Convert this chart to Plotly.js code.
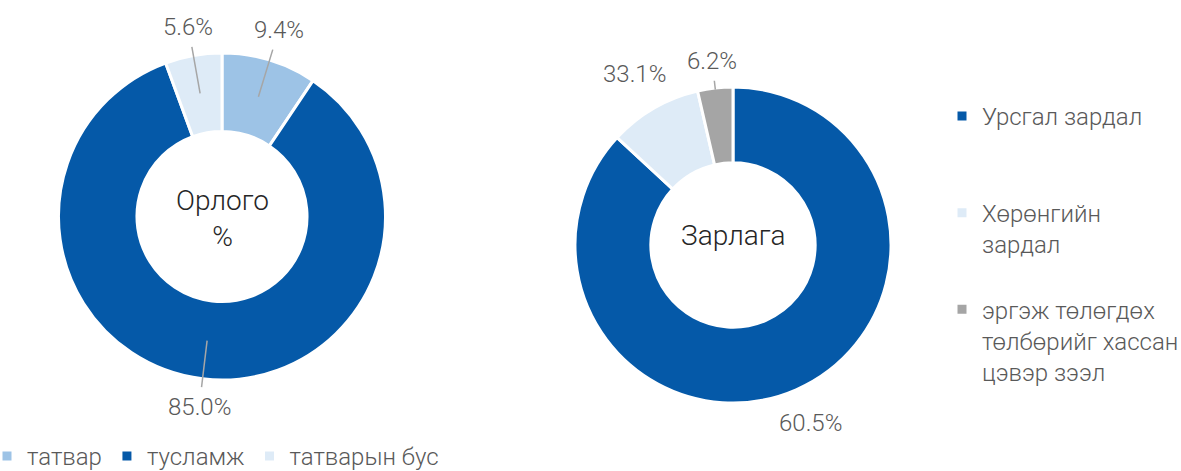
<!DOCTYPE html>
<html>
<head>
<meta charset="utf-8">
<script src="https://cdn.plot.ly/plotly-3.0.1.min.js"></script>
<style>html,body{margin:0;padding:0;background:#fff;}#chart{width:1181px;height:471px;}</style>
</head>
<body>
<div id="chart"></div>
<script>
// ---- data ----
const incomeLabels = ["татвар", "тусламж", "татварын бус"];
const incomeValues = [9.4, 85.0, 5.6];
const incomeText = ["9.4%", "85.0%", "5.6%"];

const expenseLabels = ["Урсгал зардал", "Хөрөнгийн<br>зардал", "эргэж төлөгдөх<br>төлбөрийг хассан<br>цэвэр зээл"];
const expenseValues = [86.9, 9.5, 3.6];          // slice sizes as drawn
const expenseText = ["60.5%", "33.1%", "6.2%"];  // labels as printed

const incomeTitle = "Орлого<br>%";
const expenseTitle = "Зарлага";

// ---- style ----
const W = 1181, H = 471;
const FONT = "Roboto, 'Open Sans', sans-serif";
const LABEL_SIZE = 24;
const incomeColors = ["#9DC3E6", "#0559A8", "#DEEBF7"];
const expenseColors = ["#0559A8", "#DEEBF7", "#A5A5A5"];
const pies = [
  {cx: 222, cy: 216.5, R: 163.5, values: incomeValues, text: incomeText, title: incomeTitle, titleDy: 2,
   lines: [true, true, true], anchor: 0.765},
  {cx: 733, cy: 245, R: 158, values: expenseValues, text: expenseText, title: expenseTitle, titleDy: -10,
   lines: [false, false, true], anchor: 0.99}
];
function domainOf(p) {
  return {x: [(p.cx - p.R) / W, (p.cx + p.R) / W], y: [1 - (p.cy + p.R) / H, 1 - (p.cy - p.R) / H]};
}
function polar(p, r, deg) {
  const a = deg * Math.PI / 180;
  return [p.cx + r * Math.sin(a), p.cy - r * Math.cos(a)];
}

// pad each expense legend entry to three lines so entries are evenly spaced
const expenseLegend = expenseLabels.map(s => {
  const n = s.split("<br>").length;
  return s + "<br> ".repeat(3 - n);
});

const traces = [
  {
    type: "pie", labels: incomeLabels, values: incomeValues, sort: false, direction: "clockwise", rotation: 0,
    hole: 0.52, domain: domainOf(pies[0]), textinfo: "none", hoverinfo: "label+percent",
    marker: {colors: incomeColors, line: {color: "#ffffff", width: 3}},
    legend: "legend"
  },
  {
    type: "pie", labels: expenseLegend, values: expenseValues, sort: false, direction: "clockwise", rotation: 0,
    hole: 0.52, domain: domainOf(pies[1]), textinfo: "none", hoverinfo: "label+percent",
    marker: {colors: expenseColors, line: {color: "#ffffff", width: 3}},
    legend: "legend2"
  }
];

const annotations = [];
pies.forEach(p => {
  // centre title
  annotations.push({
    text: p.title, x: p.cx / W, y: 1 - (p.cy + p.titleDy) / H, xref: "paper", yref: "paper",
    xanchor: "center", yanchor: "middle", showarrow: false,
    font: {family: FONT, size: 28, color: "#262626", weight: 300}
  });
  // data labels at each slice's mid-angle, just outside the ring
  const total = p.values.reduce((a, b) => a + b, 0);
  let cum = 0;
  p.values.forEach((v, i) => {
    const mid = (cum + v / 2) / total * 360;
    cum += v;
    const a = mid * Math.PI / 180;
    const hw = 0.28 * LABEL_SIZE * p.text[i].length, hh = 12;
    const ext = Math.abs(Math.sin(a)) * hw + Math.abs(Math.cos(a)) * hh;
    const lab = polar(p, p.R + 12 + ext, mid);
    const base = {text: p.text[i], font: {family: FONT, size: LABEL_SIZE, color: "#595959", weight: 300},
                  xref: "paper", yref: "paper", xanchor: "center", yanchor: "middle"};
    if (p.lines[i]) {
      const anc = polar(p, p.R * p.anchor, mid);
      annotations.push(Object.assign(base, {
        x: anc[0] / W, y: 1 - anc[1] / H, showarrow: true, arrowhead: 0, arrowwidth: 1.5, arrowcolor: "#A6A6A6",
        ax: lab[0] - anc[0], ay: lab[1] - anc[1], standoff: 0, borderpad: 5
      }));
    } else {
      annotations.push(Object.assign(base, {x: lab[0] / W, y: 1 - lab[1] / H, showarrow: false}));
    }
  });
});

const legendFont = {family: FONT, size: 24, color: "#595959", weight: 300};
const layout = {
  width: W, height: H, margin: {l: 0, r: 0, t: 0, b: 0, autoexpand: false},
  paper_bgcolor: "#ffffff", plot_bgcolor: "#ffffff",
  font: {family: FONT, color: "#595959"},
  showlegend: true,
  legend: {orientation: "h", x: -13 / W, xanchor: "left", y: 1 - 434 / H, yanchor: "top",
           font: legendFont, bgcolor: "rgba(0,0,0,0)"},
  legend2: {orientation: "v", x: 942 / W, xanchor: "left", y: 1 - 94 / H, yanchor: "top", valign: "top",
            font: legendFont, bgcolor: "rgba(0,0,0,0)"},
  annotations: annotations
};

Plotly.newPlot("chart", traces, layout, {displayModeBar: false, staticPlot: true});
</script>
</body>
</html>
